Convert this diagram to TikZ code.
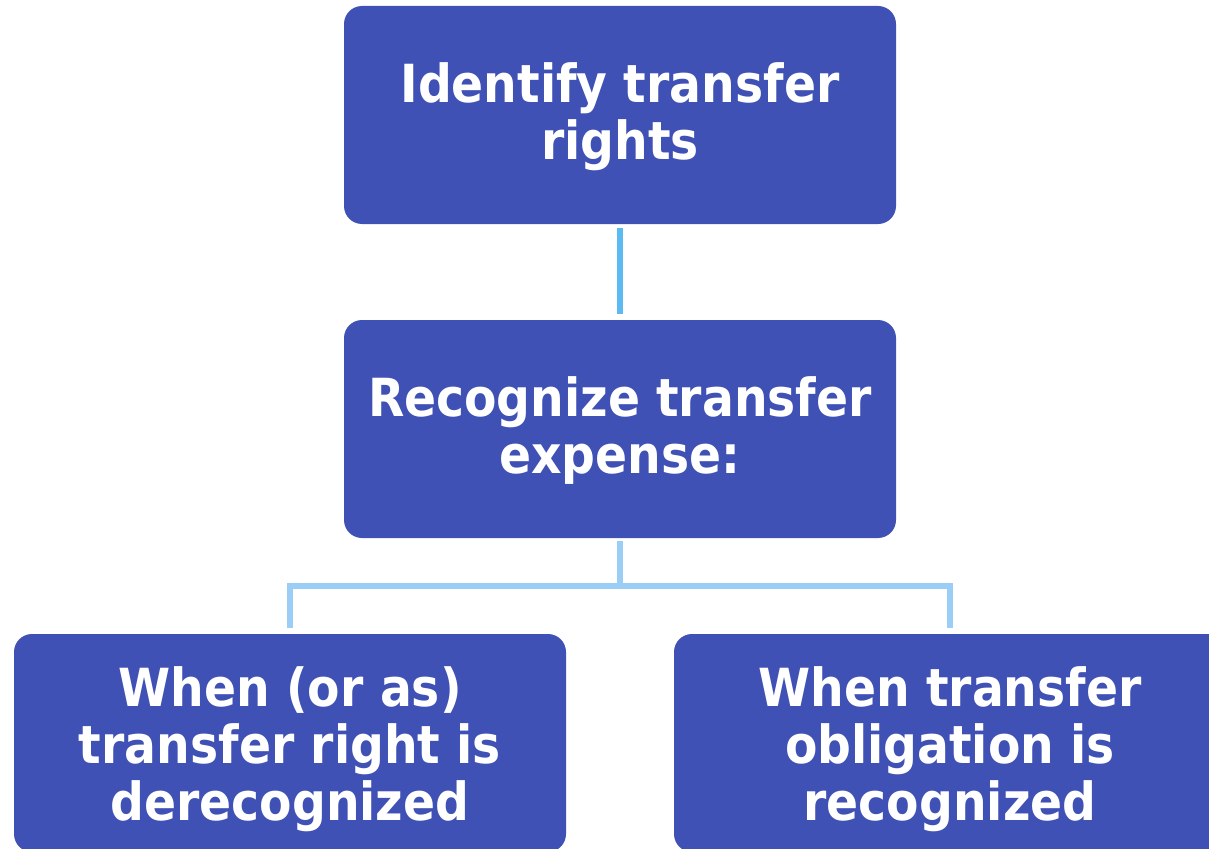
\documentclass[tikz,border=0pt]{standalone}
\usepackage{fontspec}
\setmainfont{DejaVu Sans Condensed}
% centred lines, nudged below the box centre without changing the box size
\newcommand{\steptext}[2][5pt]{\raisebox{-#1}[\height][\depth]{\begin{tabular}{@{}c@{}}#2\end{tabular}}}
\begin{document}
\begin{tikzpicture}[x=1pt,y=-1pt,
  box/.style={rectangle, rounded corners=18pt, fill=boxblue, draw=none,
    minimum width=552pt, minimum height=218pt, text=white, align=center,
    font=\fontsize{52.5}{57}\selectfont\bfseries, inner sep=0pt},
  link/.style={line width=5.5pt, draw=linkblue},
  branch/.style={line width=5.5pt, draw=branchblue}]
\definecolor{boxblue}{HTML}{3F51B5}
\definecolor{linkblue}{HTML}{5BBAF2}
\definecolor{branchblue}{HTML}{9ACEF6}
\useasboundingbox (0,0) rectangle (1209,848);
\clip (0,0) rectangle (1209,848);
% process steps
\node[box] (identify) at (620,115) {\steptext{Identify transfer\\rights}};
\node[box] (recognize) at (620,429) {\steptext{Recognize transfer\\expense:}};
\node[box] (derecog) at (290,743) {\steptext[9pt]{When (or as)\\transfer right is\\derecognized}};
\node[box] (oblig) at (950,743) {\steptext[9pt]{When transfer\\obligation is\\recognized}};
% connectors
\draw[link, shorten <=4pt, shorten >=6pt] (identify.south) -- (recognize.north);
\coordinate (split) at (620,586);
\coordinate (leftend) at (290,586);
\coordinate (rightend) at (950,586);
\draw[branch, shorten <=3pt] (recognize.south) -- (split);
\draw[branch, line cap=rect] (leftend) -- (rightend);
\draw[branch, shorten >=6pt] (leftend) -- (derecog.north);
\draw[branch, shorten >=6pt] (rightend) -- (oblig.north);
\end{tikzpicture}
\end{document}
